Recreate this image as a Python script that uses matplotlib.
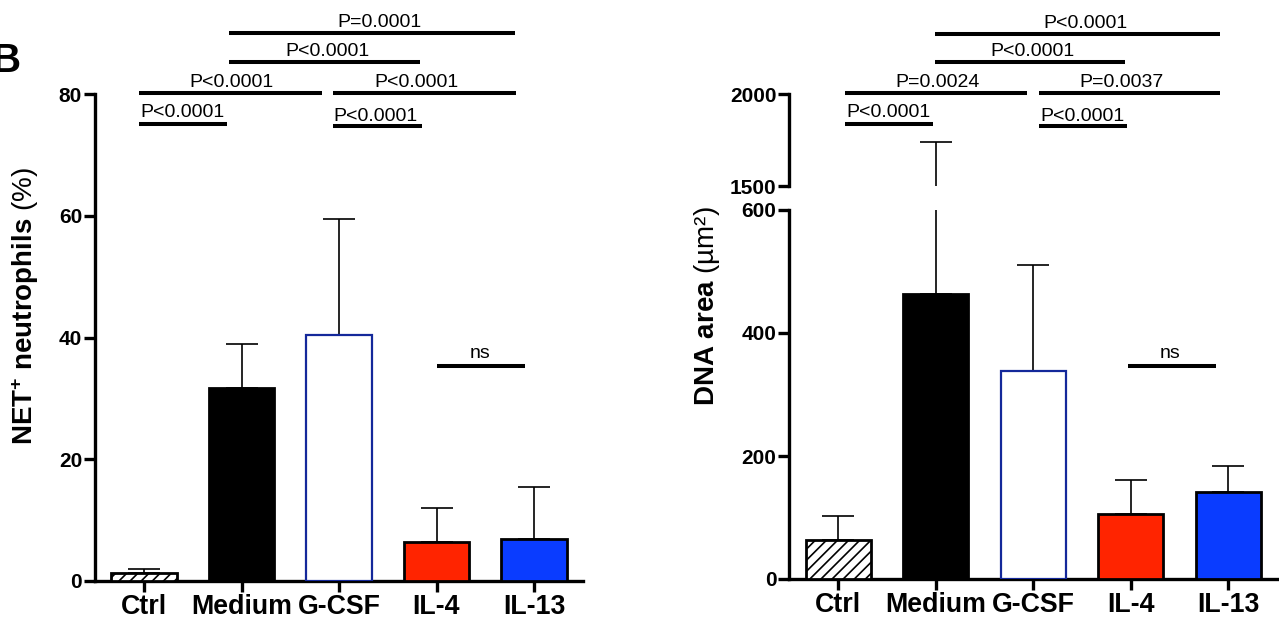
import matplotlib
matplotlib.use("Agg")
import matplotlib.pyplot as plt

plt.rcParams['font.family'] = ['Liberation Sans', 'DejaVu Sans']
plt.rcParams['mathtext.fontset'] = 'custom'
plt.rcParams['mathtext.rm'] = 'Liberation Sans'
plt.rcParams['mathtext.bf'] = 'Liberation Sans:bold'
plt.rcParams['mathtext.it'] = 'Liberation Sans:italic'
plt.rcParams['hatch.linewidth'] = 1.2

# ---------------- data ----------------
categories = ["Ctrl", "Medium", "G-CSF", "IL-4", "IL-13"]
net_mean = [1.3, 31.7, 40.4, 6.4, 6.9]
net_err = [0.7, 7.2, 19.1, 5.6, 8.5]
dna_mean = [64, 463, 338, 106, 141]
dna_err = [39, 1276, 172, 55, 43]

net_tests = ["P<0.0001", "P<0.0001", "P<0.0001", "P<0.0001", "P<0.0001", "P=0.0001", "ns"]
dna_tests = ["P<0.0001", "P<0.0001", "P=0.0024", "P=0.0037", "P<0.0001", "P<0.0001", "ns"]

# ---------------- styling / layout ----------------
W, H = 1279, 626
fig = plt.figure(figsize=(W / 100, H / 100), dpi=100)

face = ['white', 'black', 'white', '#ff2400', '#0a3cff']
edge = ['black', 'black', '#14289a', 'black', 'black']
lws = [2.0, 2.0, 1.6, 2.0, 2.0]
hatch = ['///', None, None, None, None]
BW = 0.67
SPW = 2.4
XT = 19.3
YT = 15
PT = 14


def fx(px):
    return px / W


def fy(py):
    return 1 - py / H


def style_axis(ax, xaxis=True):
    for s in ['top', 'right']:
        ax.spines[s].set_visible(False)
    ax.spines['left'].set_linewidth(SPW)
    ax.spines['bottom'].set_linewidth(SPW)
    ax.tick_params(axis='y', direction='out', length=8, width=SPW, pad=1.5,
                   labelsize=YT)
    for lb in ax.get_yticklabels():
        lb.set_fontweight('bold')
    if xaxis:
        ax.tick_params(axis='x', direction='out', length=8, width=SPW, pad=1.5,
                       labelsize=XT)
        ax.set_xticks(range(len(categories)))
        ax.set_xticklabels(categories, fontweight='bold', fontsize=XT)
    else:
        ax.spines['bottom'].set_visible(False)
        ax.tick_params(axis='x', bottom=False, labelbottom=False)
    ax.set_xlim(-0.5, 4.5)
    ax.patch.set_alpha(0)


def draw_bars(ax, mean, err):
    x = range(len(categories))
    for i in x:
        ax.bar(i, mean[i], width=BW, color=face[i], edgecolor=edge[i],
               linewidth=lws[i], hatch=hatch[i], zorder=3)
    ax.errorbar(list(x), mean, yerr=[[0] * len(err), err], fmt='none',
                ecolor='black', elinewidth=1.2, capsize=11.5, capthick=1.2,
                zorder=2)


def sig(ax, x0, x1, y, label, tx, ha, off):
    ax.plot([x0, x1], [y, y], color='black', lw=2.9, solid_capstyle='butt',
            clip_on=False, zorder=5)
    ax.annotate(label, xy=(tx, y), xytext=(0, off * 0.72), textcoords='offset points',
                ha=ha, va='baseline', fontsize=PT, annotation_clip=False)


# ---------------- left panel ----------------
axL = fig.add_axes([fx(95.25), fy(581), fx(487.5), (581 - 94) / H])
draw_bars(axL, net_mean, net_err)
axL.set_ylim(0, 80)
axL.set_yticks([0, 20, 40, 60, 80])
style_axis(axL)

L_x0 = [-0.05, 1.94, -0.05, 1.94, 0.872, 0.872, 3.0]
L_x1 = [0.85, 2.85, 1.826, 3.82, 2.83, 3.805, 3.91]
L_y = [75.1, 74.7, 80.2, 80.2, 85.3, 90.0, 35.3]
L_tx = [-0.04, 1.94, 0.90, 2.79, 1.88, 2.42, 3.45]
L_ha = ['left', 'left', 'center', 'center', 'center', 'center', 'center']
L_off = [7, 5, 6, 6, 6, 6, 8]
for i in range(len(net_tests)):
    sig(axL, L_x0[i], L_x1[i], L_y[i], net_tests[i], L_tx[i], L_ha[i], L_off[i])

# ---------------- right panel (broken axis) ----------------
axR = fig.add_axes([fx(789.5), fy(579), fx(487.5), (579 - 210) / H])
axU = fig.add_axes([fx(789.5), fy(186), fx(487.5), (186 - 94) / H])
draw_bars(axR, dna_mean, dna_err)
draw_bars(axU, dna_mean, dna_err)
axR.set_ylim(0, 600)
axR.set_yticks([0, 200, 400, 600])
axU.set_ylim(1500, 2000)
axU.set_yticks([1500, 2000])
style_axis(axR)
style_axis(axU, xaxis=False)

R_x0 = [0.07, 2.06, 0.07, 2.06, 0.995, 0.995]
R_x1 = [0.97, 2.96, 1.94, 3.92, 2.94, 3.92]
R_y = [1837, 1826, 2005, 2005, 2174, 2326]
R_tx = [0.08, 2.07, 1.02, 2.91, 1.99, 2.54]
R_ha = ['left', 'left', 'center', 'center', 'center', 'center']
R_off = [7, 5, 6, 6, 6, 6]
for i in range(6):
    sig(axU, R_x0[i], R_x1[i], R_y[i], dna_tests[i], R_tx[i], R_ha[i], R_off[i])
sig(axR, 2.97, 3.87, 346, dna_tests[6], 3.4, 'center', 8)

# ---------------- y labels ----------------
fig.text(fx(25), fy(306), r"$\mathbf{NET^{+}\ neutrophils}$ (%)", rotation=90,
         ha='center', va='center', fontsize=20)
fig.text(fx(707), fy(306), r"$\mathbf{DNA\ area}$ (µm²)", rotation=90,
         ha='center', va='center', fontsize=20)

# panel letter (partly cut at the left edge, as in the reference)
fig.text(fx(-9), fy(72), "B", fontsize=29, fontweight='bold', ha='left', va='baseline')

fig.savefig("out.png", dpi=100)
